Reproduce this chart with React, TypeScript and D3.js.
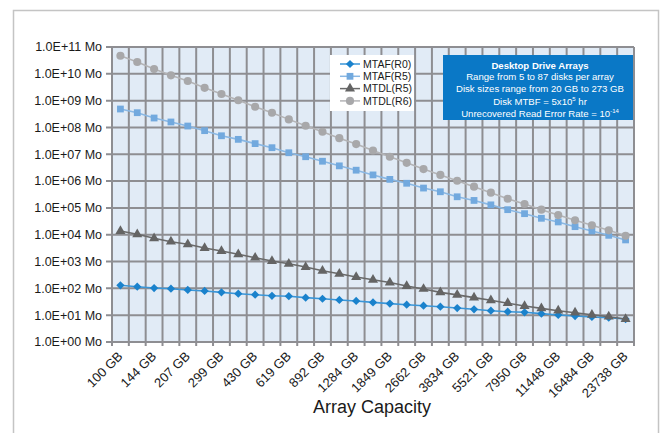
import * as d3 from 'd3';
import React, { useRef, useEffect } from 'react';

// array capacity (GB), one per point
const capacities = [100, 120, 144, 173, 207, 249, 299, 358, 430, 516, 619, 743, 892, 1070, 1284, 1541,
    1849, 2219, 2662, 3195, 3834, 4601, 5521, 6625, 7950, 9540, 11448, 13737, 16484, 19781, 23738];

const mtafR0 = [130, 115, 103, 97, 87, 80, 71, 63, 58, 53, 51, 45, 41, 37, 34, 30,
    27, 24.6, 22.6, 20.7, 18.5, 16.6, 14.7, 13.5, 12.8, 11.4, 10.2, 9.3, 8.6, 8.1, 7.2];
const mtafR5 = [4.87e8, 3.55e8, 2.25e8, 1.6e8, 1.13e8, 7.6e7, 4.9e7, 3.6e7, 2.5e7, 1.76e7, 1.14e7, 8.1e6,
    5.5e6, 3.7e6, 2.55e6, 1.7e6, 1.16e6, 8.3e5, 5.5e5, 4.0e5, 2.6e5, 1.9e5, 1.3e5, 8.6e4, 6.1e4, 4.1e4,
    3.0e4, 2.0e4, 1.38e4, 9.5e3, 6.4e3];
const mtdlR5 = [1.38e4, 1.04e4, 7.35e3, 5.5e3, 4.4e3, 3.2e3, 2.47e3, 1.86e3, 1.39e3, 1.05e3, 830, 625,
    455, 350, 265, 210, 165, 122, 95, 71, 57, 45, 36, 28, 22, 18, 14.7, 12.4, 10.4, 8.8, 7.2];
const mtdlR6 = [4.7e10, 2.75e10, 1.5e10, 8.8e9, 5.4e9, 3.0e9, 1.77e9, 1.03e9, 5.9e8, 3.55e8, 2.0e8, 1.16e8,
    6.9e7, 4.0e7, 2.4e7, 1.38e7, 8.1e6, 4.8e6, 2.8e6, 1.7e6, 1.03e6, 6.2e5, 3.7e5, 2.2e5, 1.4e5, 8.6e4,
    5.4e4, 3.45e4, 2.25e4, 1.46e4, 9.2e3];

const yTicks = [1e0, 1e1, 1e2, 1e3, 1e4, 1e5, 1e6, 1e7, 1e8, 1e9, 1e10, 1e11];
const yTickLabels = ['1.0E+00 Mo', '1.0E+01 Mo', '1.0E+02 Mo', '1.0E+03 Mo', '1.0E+04 Mo', '1.0E+05 Mo',
    '1.0E+06 Mo', '1.0E+07 Mo', '1.0E+08 Mo', '1.0E+09 Mo', '1.0E+10 Mo', '1.0E+11 Mo'];

const seriesList = [
    { name: 'MTAF(R0)', values: mtafR0, color: '#1a82cc', line: '#3a96d8', symbol: 'diamond' },
    { name: 'MTAF(R5)', values: mtafR5, color: '#72a9de', line: '#8ab8e4', symbol: 'square' },
    { name: 'MTDL(R5)', values: mtdlR5, color: '#646464', line: '#6a6a6a', symbol: 'triangle' },
    { name: 'MTDL(R6)', values: mtdlR6, color: '#a8a8aa', line: '#b4b4b6', symbol: 'circle' },
];

const width = 660;
const height = 433;
const font = '"Liberation Sans", Arial, Helvetica, sans-serif';

function symbolPath(kind) {
    if (kind === 'diamond') return d3.symbol(d3.symbolSquare, 34)();
    if (kind === 'square') return d3.symbol(d3.symbolSquare, 46)();
    if (kind === 'triangle') return d3.symbol(d3.symbolTriangle, 44)();
    return d3.symbol(d3.symbolCircle, 52)();
}

function ReliabilityChart() {
    const ref = useRef();

    useEffect(() => {
        const svg = d3.select(ref.current);
        svg.selectAll('*').remove();

        const left = 112, right = 634, top = 47, bottom = 342;

        const x = d3.scaleBand().domain(capacities.map(String)).range([left, right]).padding(0);
        const y = d3.scaleLog().domain([1, 1e11]).range([bottom, top]);
        const cx = (i) => x(String(capacities[i])) + x.bandwidth() / 2;

        // outer frame
        svg.append('rect')
            .attr('x', 13.5).attr('y', 10.5)
            .attr('width', 645).attr('height', 440)
            .attr('fill', 'white')
            .attr('stroke', '#c4c4c4')
            .attr('stroke-width', 1.5);

        svg.append('rect')
            .attr('x', left).attr('y', top)
            .attr('width', right - left).attr('height', bottom - top)
            .attr('fill', '#e1ebf6');

        const grid = svg.append('g').attr('stroke', '#8e8e92').attr('stroke-width', 2);
        // vertical gridlines + ticks at band edges
        const edges = capacities.map((c) => x(String(c))).concat([right]);
        grid.selectAll('line.v').data(edges).enter().append('line')
            .attr('x1', (d) => d).attr('x2', (d) => d)
            .attr('y1', top).attr('y2', bottom + 4);
        grid.selectAll('line.h').data(yTicks).enter().append('line')
            .attr('x1', left - 6).attr('x2', right)
            .attr('y1', (d) => y(d)).attr('y2', (d) => y(d));

        // y labels
        svg.append('g').selectAll('text').data(yTicks).enter().append('text')
            .attr('x', 102)
            .attr('y', (d) => y(d))
            .attr('dy', '0.35em')
            .attr('text-anchor', 'end')
            .style('font-family', font)
            .style('font-size', '12.5px')
            .attr('fill', '#1a1a1a')
            .text((d, i) => yTickLabels[i]);

        // x labels, every other category
        svg.append('g').selectAll('text')
            .data(capacities.filter((c, i) => i % 2 === 0))
            .enter().append('text')
            .attr('transform', (d) => `translate(${x(String(d)) + x.bandwidth() / 2 + 3},${357}) rotate(-45)`)
            .attr('text-anchor', 'end')
            .style('font-family', font)
            .style('font-size', '13px')
            .attr('fill', '#1a1a1a')
            .text((d) => d + ' GB');

        svg.append('text')
            .attr('x', 372).attr('y', 413)
            .attr('text-anchor', 'middle')
            .style('font-family', font)
            .style('font-size', '18px')
            .attr('fill', '#1a1a1a')
            .text('Array Capacity');

        // series
        seriesList.forEach((s) => {
            const line = d3.line().x((d, i) => cx(i)).y((d) => y(d));
            svg.append('path')
                .attr('d', line(s.values))
                .attr('fill', 'none')
                .attr('stroke', s.line)
                .attr('stroke-width', 1.6);
            svg.append('g').selectAll('path').data(s.values).enter().append('path')
                .attr('d', symbolPath(s.symbol))
                .attr('transform', (d, i) => `translate(${cx(i)},${y(d)})` + (s.symbol === 'diamond' ? ' rotate(45)' : ''))
                .attr('fill', s.color);
        });

        // legend
        const lg = svg.append('g');
        lg.append('rect').attr('x', 330).attr('y', 55).attr('width', 84).attr('height', 56).attr('fill', 'white');
        seriesList.forEach((s, i) => {
            const ly = 64 + i * 12.3;
            lg.append('line').attr('x1', 340).attr('x2', 360).attr('y1', ly).attr('y2', ly)
                .attr('stroke', s.line).attr('stroke-width', 1.5);
            lg.append('path').attr('d', symbolPath(s.symbol))
                .attr('transform', `translate(350,${ly})` + (s.symbol === 'diamond' ? ' rotate(45)' : ''))
                .attr('fill', s.color);
            lg.append('text').attr('x', 363).attr('y', ly).attr('dy', '0.35em')
                .style('font-family', font).style('font-size', '10.5px').attr('fill', '#1a1a1a')
                .text(s.name);
        });

        // info box
        const ib = svg.append('g');
        ib.append('rect').attr('x', 443).attr('y', 55).attr('width', 190).attr('height', 65).attr('fill', '#0a78c6');
        const infoX = 540;
        const fs = '9.6px';
        ib.append('text').attr('x', infoX).attr('y', 68.5).attr('text-anchor', 'middle')
            .style('font-family', font).style('font-size', fs).style('font-weight', 'bold')
            .attr('fill', 'white').text('Desktop Drive Arrays');
        const plain = ['Range from 5 to 87 disks per array', 'Disk sizes range from 20 GB to 273 GB'];
        plain.forEach((t, i) => {
            ib.append('text').attr('x', infoX).attr('y', 80 + i * 12.2).attr('text-anchor', 'middle')
                .style('font-family', font).style('font-size', fs).attr('fill', 'white').text(t);
        });
        const mtbf = ib.append('text').attr('x', infoX).attr('y', 104.5).attr('text-anchor', 'middle')
            .style('font-family', font).style('font-size', fs).attr('fill', 'white');
        mtbf.append('tspan').text('Disk MTBF = 5x10');
        mtbf.append('tspan').attr('dy', -4).style('font-size', '6px').text('5');
        mtbf.append('tspan').attr('dy', 4).text(' hr');
        const ure = ib.append('text').attr('x', infoX).attr('y', 116.5).attr('text-anchor', 'middle')
            .style('font-family', font).style('font-size', fs).attr('fill', 'white');
        ure.append('tspan').text('Unrecovered Read Error Rate = 10');
        ure.append('tspan').attr('dy', -4).style('font-size', '6px').text('-14');
    }, []);

    return (
        <div style={{ position: 'absolute', left: 0, top: 0, width, height }}>
            <svg ref={ref} width={width} height={height}></svg>
        </div>
    );
}

export default function App() {
    return <ReliabilityChart />;
}
